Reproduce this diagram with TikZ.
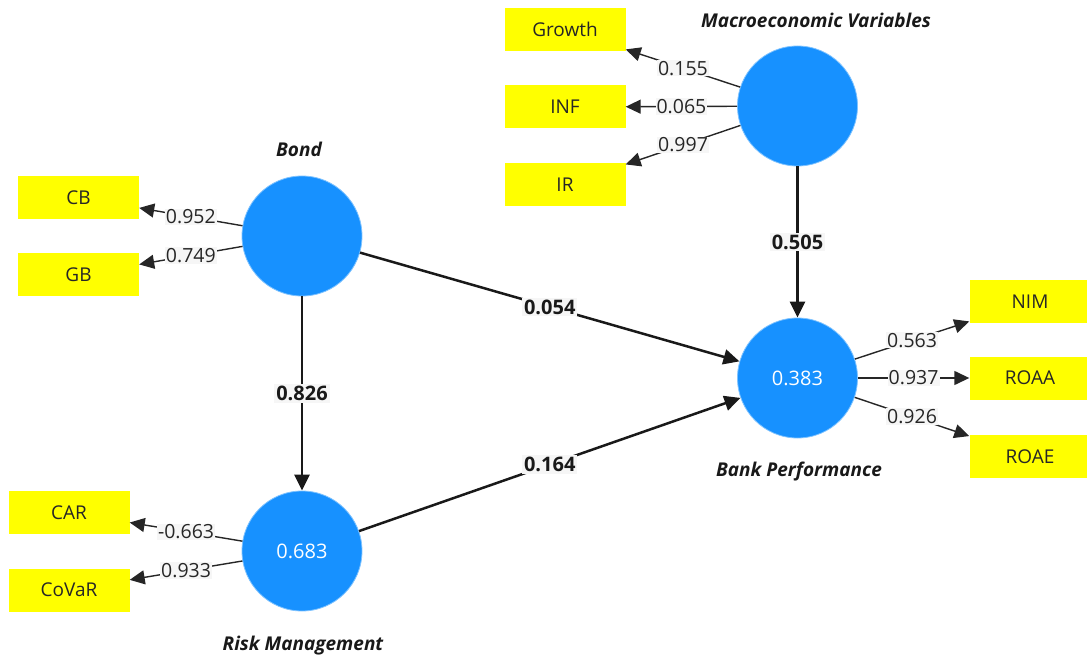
\documentclass[tikz,border=0pt]{standalone}
\usepackage{fontspec}
\setmainfont{Open Sans}
\usepackage{xcolor}
\definecolor{lvblue}{HTML}{1791FF}
\definecolor{mvyellow}{HTML}{FFFF00}
\definecolor{labelgray}{HTML}{F6F6F6}
\usetikzlibrary{arrows.meta}

\begin{document}
\begin{tikzpicture}[
		x=1pt, y=-1pt,
		latent/.style={circle, fill=lvblue, draw=lvblue!55!white, line width=0.8pt, minimum size=120pt, inner sep=0pt, text=white, font=\fontsize{20}{23}\selectfont},
		indicator/.style={rectangle, fill=mvyellow, minimum width=121pt, minimum height=43pt, inner sep=0pt, text=black!85, font=\fontsize{19}{22}\selectfont},
		lvname/.style={text=black!90, font=\bfseries\itshape\fontsize{19}{23}\selectfont},
		loading/.style={-{Triangle[length=15pt,width=14pt]}, line width=1.4pt, black!85},
		structural/.style={-{Triangle[length=16pt,width=15pt]}, line width=2.5pt, black!90},
		weight/.style={fill=labelgray, inner sep=1pt, text=black!85, font=\fontsize{19.5}{22}\selectfont},
		coef/.style={fill=labelgray, inner sep=2pt, text=black!90, font=\bfseries\fontsize{20}{23}\selectfont},
	]
		\useasboundingbox (0,0) rectangle (1087,660);

		% latent variables
		\node[latent] (bond) at (302,236) {};
		\node[latent] (macro) at (797.5,106) {};
		\node[latent] (bank) at (797.5,378) {0.383};
		\node[latent] (risk) at (302,551) {0.683};

		\node[lvname] (bondname) at (299,149) {Bond};
		\node[lvname] (macroname) at (816,20) {Macroeconomic Variables};
		\node[lvname] (bankname) at (799,472) {Bank Performance};
		\node[lvname] (riskname) at (303,646) {Risk Management};

		% indicators
		\node[indicator] (cb) at (78.5,197.5) {CB};
		\node[indicator] (gb) at (78.5,275) {GB};
		\node[indicator] (growth) at (565,29.5) {Growth};
		\node[indicator] (inf) at (565,107) {INF};
		\node[indicator] (ir) at (565,185) {IR};
		\node[indicator] (nim) at (1030,301.5) {NIM};
		\node[indicator] (roaa) at (1030,378) {ROAA};
		\node[indicator] (roae) at (1030,456.5) {ROAE};
		\node[indicator] (car) at (69,512.5) {CAR};
		\node[indicator] (covar) at (69,590) {CoVaR};

		% outer model
		\foreach \lv/\mv/\val in {bond/cb/0.952, bond/gb/0.749, macro/growth/0.155, macro/inf/0.065, macro/ir/0.997, bank/nim/0.563, bank/roaa/0.937, bank/roae/0.926, risk/car/-0.663, risk/covar/0.933}
			\draw[loading] (\lv) -- node[weight] {\val} (\mv);

		% inner model
		\draw[structural] (bond) -- node[coef] {0.826} (risk);
		\draw[structural] (bond) -- node[coef] {0.054} (bank);
		\draw[structural] (risk) -- node[coef] {0.164} (bank);
		\draw[structural] (macro) -- node[coef] {0.505} (bank);
	\end{tikzpicture}
\end{document}
